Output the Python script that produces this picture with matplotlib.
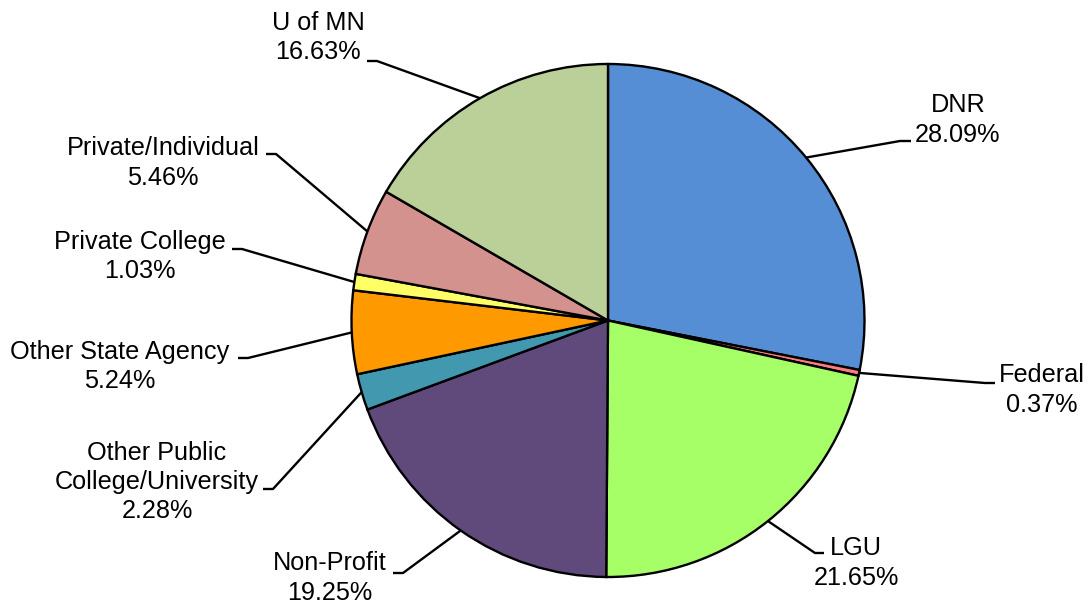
import numpy as np
import matplotlib
matplotlib.use('Agg')
import matplotlib.pyplot as plt

plt.rcParams['font.family'] = ['Liberation Sans', 'DejaVu Sans']

# data
categories = ['DNR', 'Federal', 'LGU', 'Non-Profit',
              'Other Public\nCollege/University', 'Other State Agency',
              'Private College', 'Private/Individual', 'U of MN']
shares = [28.09, 0.37, 21.65, 19.25, 2.28, 5.24, 1.03, 5.46, 16.63]
colors = ['#558ED5', '#FF7C80', '#A6FF66', '#604A7B', '#4198AF',
          '#FF9900', '#FFFF66', '#D4928F', '#BBCF99']

# layout in pixels (y measured from the top): label centre, elbow, line end
W, H = 1089, 608
label_xy = [(958, 120), (1042, 390), (856, 563), (330, 578), (157, 482),
            (120, 366.5), (140, 256.5), (163, 163), (318, 37.5)]
elbow_xy = [(900, 141), (985, 383), (815, 553), (403, 573), (273, 489),
            (248, 358), (242, 249), (276, 154), (377, 61)]
end_xy = [(911, 141), (995, 383), (824, 553), (393, 573), (263, 489),
          (238, 358), (232, 249), (266, 154), (367, 61)]
center = (608, H - 320.5)
radius = 256.5

fig = plt.figure(figsize=(W / 100, H / 100), dpi=100)
ax = fig.add_axes([0, 0, 1, 1])
wedges, _ = ax.pie(shares, colors=colors, startangle=90, counterclock=False,
                   center=center, radius=radius,
                   wedgeprops=dict(edgecolor='black', linewidth=1.7))
ax.set_xlim(0, W)
ax.set_ylim(0, H)
ax.set_aspect('equal')
ax.axis('off')

for w, cat, val, lab, elb, end in zip(wedges, categories, shares,
                                      label_xy, elbow_xy, end_xy):
    mid = np.deg2rad((w.theta1 + w.theta2) / 2)
    x0 = center[0] + radius * np.cos(mid)
    y0 = center[1] + radius * np.sin(mid)
    ax.plot([x0, elb[0], end[0]], [y0, H - elb[1], H - end[1]],
            color='black', linewidth=1.7, solid_capstyle='butt')
    ax.text(lab[0], H - lab[1], f'{cat}\n{val:.2f}%', ha='center',
            va='center', multialignment='center', fontsize=18.2,
            linespacing=1.28)

fig.savefig('out.png', dpi=100)
